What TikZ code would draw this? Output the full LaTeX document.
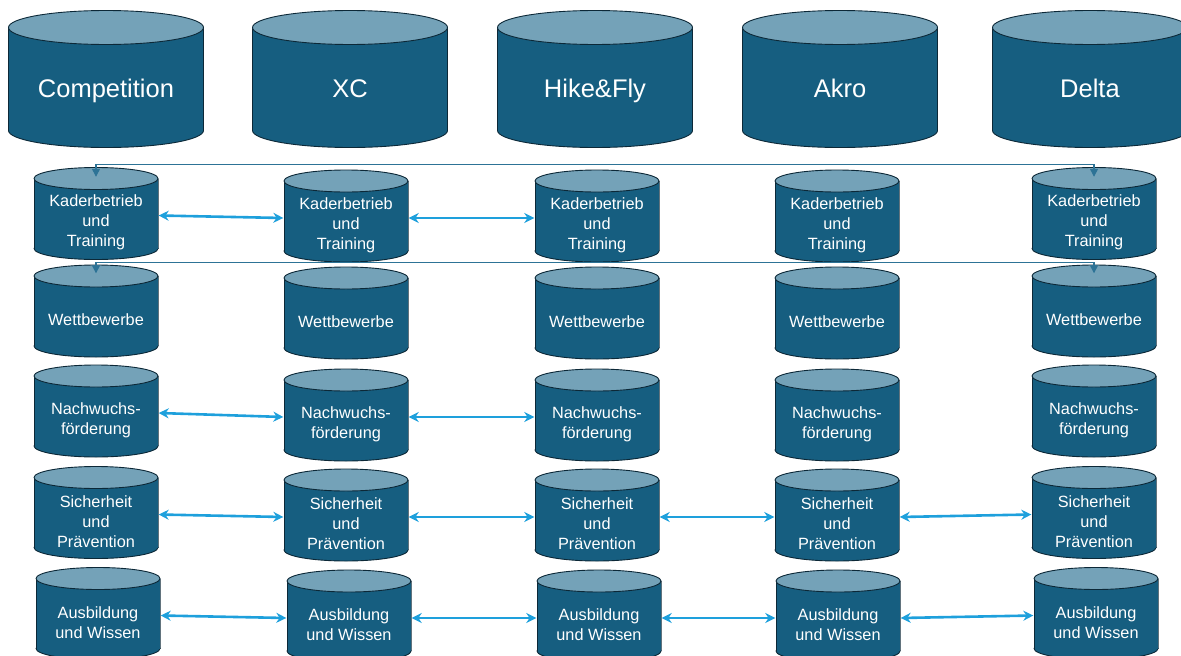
\documentclass[tikz,border=0pt]{standalone}
\usepackage{fontspec}
\setmainfont{Liberation Sans}
\usetikzlibrary{arrows.meta,calc}

\definecolor{dbbody}{HTML}{165E80}
\definecolor{dbtop}{HTML}{74A2B8}
\definecolor{dbedge}{HTML}{0C2837}
\definecolor{linkblue}{HTML}{1EA0DC}
\definecolor{bridgeline}{HTML}{2D7396}

% zylinder im path picture: #1 x-radius, #2 y-radius, #3 freiraum unten
\newcommand\dbcyl[3]{%
  \coordinate (dbt) at ([yshift={-#2pt-0.5pt}]path picture bounding box.north);
  \coordinate (dbb) at ([yshift={#3pt+#2pt+0.5pt}]path picture bounding box.south);
  \filldraw[fill=dbbody, draw=dbedge, line width=0.9pt] (dbb) ellipse [x radius=#1pt, y radius=#2pt];
  \fill[dbbody] ([xshift=-#1pt]dbb) rectangle ([xshift=#1pt]dbt);
  \draw[dbedge, line width=0.9pt] ([xshift=-#1pt]dbb) -- ([xshift=-#1pt]dbt)
    ([xshift=#1pt]dbb) -- ([xshift=#1pt]dbt);
  \filldraw[fill=dbtop, draw=dbedge, line width=0.9pt] (dbt) ellipse [x radius=#1pt, y radius=#2pt];
}

\tikzset{
  bigdb/.style={rectangle, inner sep=0pt, minimum width=196pt, minimum height=156pt,
    text=white, align=center, font=\fontsize{25.5}{30}\selectfont,
    text height=18.5pt, text depth=0.3pt,
    path picture={\dbcyl{97.5}{17}{18}}},
  smalldb/.style={rectangle, inner sep=0pt, minimum width=125pt, minimum height=111pt,
    text=white, align=center, font=\fontsize{16.3}{20}\selectfont,
    path picture={\dbcyl{62}{11}{18}}},
  link/.style={{Stealth[length=10pt,width=10pt]}-{Stealth[length=10pt,width=10pt]},
    draw=linkblue, line width=2.6pt, transform canvas={yshift=7pt}},
  bridge/.style={{Triangle[length=8pt,width=8pt]}-{Triangle[length=8pt,width=8pt]},
    draw=bridgeline, line width=1.3pt},
}

\begin{document}
\begin{tikzpicture}[x=1pt,y=-1pt]
  \useasboundingbox (0,0) rectangle (1181,656);

  % sparten
  \node[bigdb] (comp) at (106,88) {Competition};
  \node[bigdb] (xc) at (350,88) {XC};
  \node[bigdb] (hike) at (595,88) {Hike\&Fly};
  \node[bigdb] (akro) at (840,88) {Akro};
  \node[bigdb] (delta) at (1090,88) {Delta};

  % bereiche pro sparte
  \node[smalldb] (kad1) at (96,222.5) {Kaderbetrieb\\und\\Training};
  \node[smalldb] (wet1) at (96,320) {Wettbewerbe};
  \node[smalldb] (nach1) at (96,420) {Nachwuchs-\\förderung};
  \node[smalldb] (sich1) at (96,521.5) {Sicherheit\\und\\Prävention};
  \node[smalldb] (ausb1) at (98,622.5) {Ausbildung\\und Wissen};

  \node[smalldb] (kad2) at (346,225) {Kaderbetrieb\\und\\Training};
  \node[smalldb] (wet2) at (346,322) {Wettbewerbe};
  \node[smalldb] (nach2) at (346,424) {Nachwuchs-\\förderung};
  \node[smalldb] (sich2) at (346,524) {Sicherheit\\und\\Prävention};
  \node[smalldb] (ausb2) at (349,625) {Ausbildung\\und Wissen};

  \node[smalldb] (kad3) at (597,225) {Kaderbetrieb\\und\\Training};
  \node[smalldb] (wet3) at (597,322) {Wettbewerbe};
  \node[smalldb] (nach3) at (597,424) {Nachwuchs-\\förderung};
  \node[smalldb] (sich3) at (597,524) {Sicherheit\\und\\Prävention};
  \node[smalldb] (ausb3) at (599,625) {Ausbildung\\und Wissen};

  \node[smalldb] (kad4) at (837,225) {Kaderbetrieb\\und\\Training};
  \node[smalldb] (wet4) at (837,322) {Wettbewerbe};
  \node[smalldb] (nach4) at (837,424) {Nachwuchs-\\förderung};
  \node[smalldb] (sich4) at (837,524) {Sicherheit\\und\\Prävention};
  \node[smalldb] (ausb4) at (838,625) {Ausbildung\\und Wissen};

  \node[smalldb] (kad5) at (1094,222.5) {Kaderbetrieb\\und\\Training};
  \node[smalldb] (wet5) at (1094,320) {Wettbewerbe};
  \node[smalldb] (nach5) at (1094,420) {Nachwuchs-\\förderung};
  \node[smalldb] (sich5) at (1094,521.5) {Sicherheit\\und\\Prävention};
  \node[smalldb] (ausb5) at (1096,622.5) {Ausbildung\\und Wissen};

  % verbindungen competition - delta
  \draw[bridge] ([yshift=-10pt]kad1.north) -- ++(0,-12) -| ([yshift=-10pt]kad5.north);
  \draw[bridge] ([yshift=-9pt]wet1.north) -- ++(0,-11) -| ([yshift=-9pt]wet5.north);

  % austausch zwischen sparten
  \draw[link] (kad1.east) -- (kad2.west);
  \draw[link] (kad2.east) -- (kad3.west);

  \draw[link] (nach1.east) -- (nach2.west);
  \draw[link] (nach2.east) -- (nach3.west);

  \draw[link] (sich1.east) -- (sich2.west);
  \draw[link] (sich2.east) -- (sich3.west);
  \draw[link] (sich3.east) -- (sich4.west);
  \draw[link] (sich4.east) -- (sich5.west);

  \draw[link] (ausb1.east) -- (ausb2.west);
  \draw[link] (ausb2.east) -- (ausb3.west);
  \draw[link] (ausb3.east) -- (ausb4.west);
  \draw[link] (ausb4.east) -- (ausb5.west);
\end{tikzpicture}
\end{document}
